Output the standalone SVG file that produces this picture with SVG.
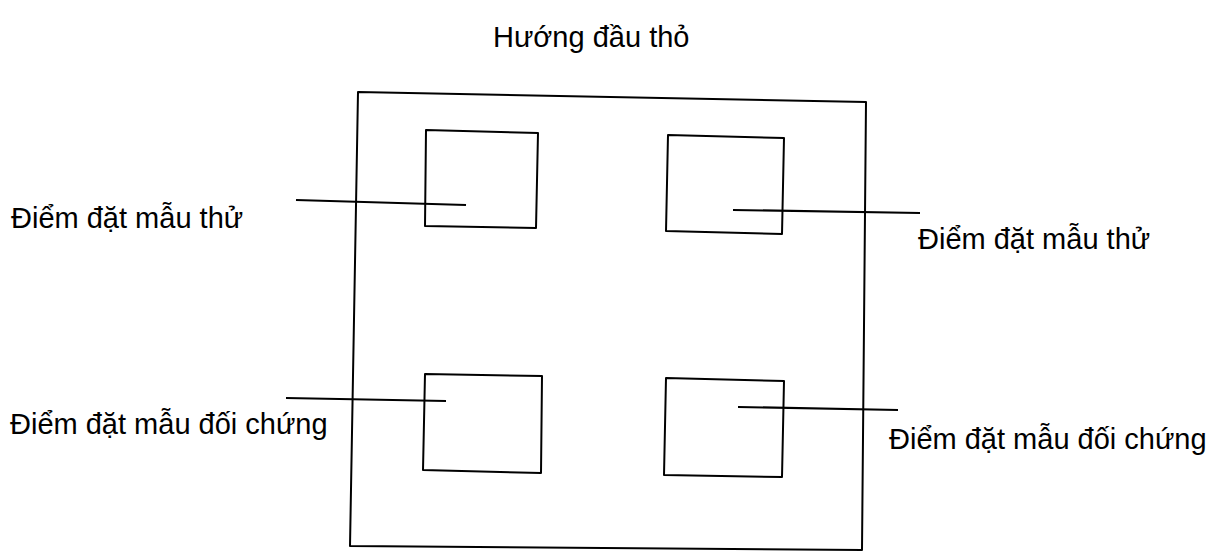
<svg xmlns="http://www.w3.org/2000/svg" width="1221" height="553" viewBox="0 0 1221 553">
<style>
.box{fill:none;stroke:#000;stroke-width:2;stroke-linejoin:round}
.ln{fill:none;stroke:#000;stroke-width:2.2}
.t{font-family:"Liberation Sans",Arial,sans-serif;font-size:29px;fill:#000}
</style>
<rect width="1221" height="553" fill="#fff"/>
<g id="title"><text class="t" x="493" y="47">Hướng đầu thỏ</text></g>
<g id="frame"><polygon class="box" points="358,92 866,102 862,550 350,546"/></g>
<g id="sq-top-left"><polygon class="box" points="426,130 538,133 536,228 425,226"/></g>
<g id="sq-top-right"><polygon class="box" points="668,135 784,138 782,234 666,231"/></g>
<g id="sq-bottom-left"><polygon class="box" points="425,374 542,376 541,473 423,470"/></g>
<g id="sq-bottom-right"><polygon class="box" points="666,378 784,381 782,477 664,475"/></g>
<g id="connectors">
<line class="ln" x1="296" y1="200" x2="466" y2="205"/>
<line class="ln" x1="733" y1="210" x2="920" y2="213"/>
<line class="ln" x1="286" y1="398" x2="446" y2="401"/>
<line class="ln" x1="738" y1="407" x2="898" y2="410"/>
</g>
<g id="label-top-left"><text class="t" x="11" y="228">Điểm đặt mẫu thử</text></g>
<g id="label-top-right"><text class="t" x="918" y="249">Điểm đặt mẫu thử</text></g>
<g id="label-bottom-left"><text class="t" x="10" y="434">Điểm đặt mẫu đối chứng</text></g>
<g id="label-bottom-right"><text class="t" x="889" y="449">Điểm đặt mẫu đối chứng</text></g>
</svg>
